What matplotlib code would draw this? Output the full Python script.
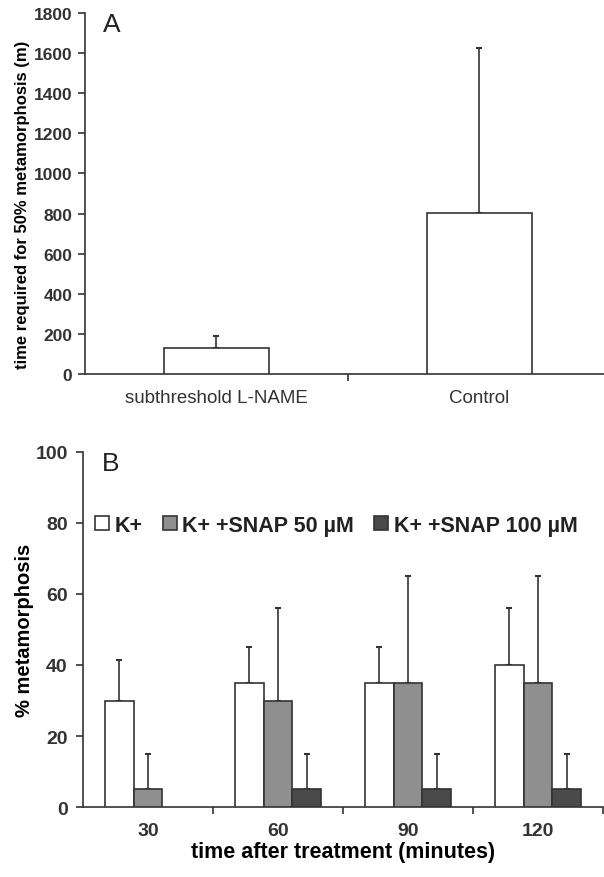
import matplotlib.pyplot as plt
import numpy as np

plt.rcParams.update({
    'font.family': ['Liberation Sans', 'DejaVu Sans'],
    'axes.linewidth': 1.2,
    'axes.edgecolor': '#333333',
    'xtick.color': '#333333',
    'ytick.color': '#333333',
    'text.color': '#222222',
})

# ========== Data ==========
# (A)
a_groups = ['subthreshold L-NAME', 'Control']
a_means = [130, 805]
a_errs = [60, 820]

# (B)
times = ['30', '60', '90', '120']
series = ['K+', 'K+ +SNAP 50 \u00b5M', 'K+ +SNAP 100 \u00b5M']
kplus = [30, 35, 35, 40]
kplus_err = [11.5, 10, 10, 16]
snap50 = [5, 30, 35, 35]
snap50_err = [10, 26, 30, 30]
snap100 = [0, 5, 5, 5]
snap100_err = [0, 10, 10, 10]

colors = ['white', '#8f8f8f', '#4a4a4a']
edge = '#333333'

fig = plt.figure(figsize=(6.04, 8.78), dpi=100)

# ========== Panel A ==========
axA = fig.add_axes([0.1407, 0.5729, 0.870, 0.4112])
xa = np.arange(len(a_groups))
axA.bar(xa, a_means, 0.40, color='white', edgecolor=edge, linewidth=1.2, zorder=3)
axA.errorbar(xa, a_means, yerr=[np.zeros(len(a_errs)), a_errs], fmt='none',
             ecolor=edge, elinewidth=1.2, capsize=2.5, capthick=1.5, zorder=2)
axA.set_xlim(-0.5, 1.5)
axA.set_ylim(0, 1800)
axA.set_yticks(range(0, 1801, 200))
axA.set_xticks(xa)
axA.set_xticklabels(a_groups, fontsize=13.5)
axA.set_xticks([0.5], minor=True)
axA.tick_params(axis='x', which='major', length=0, pad=11)
axA.tick_params(axis='x', which='minor', length=5, width=1.2, direction='out')
axA.tick_params(axis='y', length=5, width=1.2, pad=4)
for lab in axA.get_yticklabels():
    lab.set_fontweight('bold')
    lab.set_fontsize(12.5)
axA.set_ylabel('time required for 50% metamorphosis (m)', fontsize=12,
               fontweight='bold', labelpad=4)
axA.yaxis.set_label_coords(-0.105, 0.47)
axA.spines['top'].set_visible(False)
axA.spines['right'].set_visible(False)
axA.text(0.035, 0.95, 'A', transform=axA.transAxes, fontsize=19)

# ========== Panel B ==========
axB = fig.add_axes([0.1374, 0.0797, 0.861, 0.4044])
xb = np.arange(len(times))
w = 0.22
vals = [kplus, snap50, snap100]
errs = [kplus_err, snap50_err, snap100_err]
for i, (v, e, c, s) in enumerate(zip(vals, errs, colors, series)):
    v = np.array(v)
    e = np.array(e)
    pos = xb + (i - 1) * w
    mask = v > 0
    axB.bar(pos[mask], v[mask], w, color=c, edgecolor=edge, linewidth=1.2,
            zorder=3, label=s)
    axB.errorbar(pos[mask], v[mask], yerr=[np.zeros(mask.sum()), e[mask]],
                 fmt='none', ecolor=edge, elinewidth=1.2, capsize=2.5,
                 capthick=1.5, zorder=2)
axB.set_xlim(-0.5, 3.5)
axB.set_ylim(0, 100)
axB.set_yticks(range(0, 101, 20))
axB.set_xticks(xb)
axB.set_xticklabels(times)
axB.set_xticks(np.arange(0.5, 4.0, 1.0), minor=True)
axB.tick_params(axis='x', which='major', length=0, pad=11, labelsize=14)
axB.tick_params(axis='x', which='minor', length=5, width=1.2, direction='out')
axB.tick_params(axis='y', length=5, width=1.2, pad=6, labelsize=14)
for lab in axB.get_xticklabels() + axB.get_yticklabels():
    lab.set_fontweight('bold')
axB.set_xlabel('time after treatment (minutes)', fontsize=15.5, fontweight='bold', labelpad=1)
axB.set_ylabel('% metamorphosis', fontsize=14.5, fontweight='bold', labelpad=1)
axB.spines['top'].set_visible(False)
axB.spines['right'].set_visible(False)
axB.text(0.037, 0.95, 'B', transform=axB.transAxes, fontsize=19)
axB.legend(loc='center left', bbox_to_anchor=(0.023, 0.794), ncol=3, frameon=False,
           prop={'weight': 'bold', 'size': 15.5}, handlelength=0.65, handleheight=0.65,
           handletextpad=0.25, columnspacing=0.95, borderaxespad=0.0, borderpad=0.0)

fig.savefig('out.png', dpi=100)
